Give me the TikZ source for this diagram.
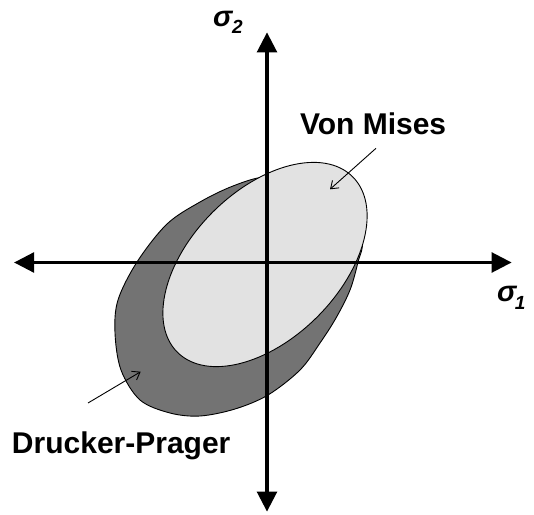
\documentclass[tikz,border=0pt]{standalone}
\usepackage{fontspec}
\setmainfont{Liberation Sans}
\usetikzlibrary{arrows.meta}
\definecolor{dpgray}{HTML}{737373}
\definecolor{vmgray}{HTML}{E2E2E2}
\tikzset{
  axis/.style={line width=3.8pt,-{Triangle[length=20pt,width=19.5pt]}},
  outline/.style={draw=black,line width=0.9pt},
  pointer/.style={line width=0.9pt,-{Straight Barb[length=7pt,width=10pt]}},
  lbl/.style={inner sep=0pt,outer sep=0pt,font=\fontsize{30}{30}\selectfont\bfseries},
  sig/.style={inner sep=0pt,outer sep=0pt,font=\fontsize{29}{29}\selectfont\bfseries\itshape}
}
\begin{document}
\begin{tikzpicture}[x=1pt,y=1pt]
\useasboundingbox (0,0) rectangle (534,514);
% Drucker-Prager region
\filldraw[outline,fill=dpgray] plot[smooth cycle,tension=0.55] coordinates {
 (265,337) (233,328) (200,312) (167,290) (137,252) (118,214) (115,181)
 (121,144) (140,114) (170,101) (200,98) (235,105) (268,119) (300,144)
 (320,171) (336,196) (350,224) (358,252) (362,274) (345,309) (300,332)};
% Von Mises ellipse
\filldraw[outline,fill=vmgray,rotate around={45:(265,249.5)}] (265,249.5) ellipse [x radius=124, y radius=74];
% axes
\coordinate (o) at (267,251.5);
\coordinate (xl) at (14,251.5);
\coordinate (xr) at (511.7,251.5);
\coordinate (yt) at (267,481.7);
\coordinate (yb) at (267,2.3);
\draw[axis] (o) -- (xr);
\draw[axis] (o) -- (xl);
\draw[axis] (o) -- (yt);
\draw[axis] (o) -- (yb);
% labels
\node[sig,anchor=base west] (s2) at (213,487.3) {σ\raisebox{-6.6pt}{\fontsize{19}{19}\selectfont 2}};
\node[sig,anchor=base west] (s1) at (497,212.3) {σ\hspace{-1.5pt}\raisebox{-7.6pt}{\fontsize{19}{19}\selectfont 1}};
\node[lbl,anchor=base west] (vm) at (300,379) {Von Mises};
\node[lbl,anchor=base west] (dp) at (12,61) {Drucker-Prager};
% pointers
\coordinate (vmt) at (376,365.7);
\coordinate (vmh) at (330,324.7);
\coordinate (dpt) at (88,111);
\coordinate (dph) at (140.7,142.3);
\draw[pointer] (vmt) -- (vmh);
\draw[pointer] (dpt) -- (dph);
\end{tikzpicture}
\end{document}
